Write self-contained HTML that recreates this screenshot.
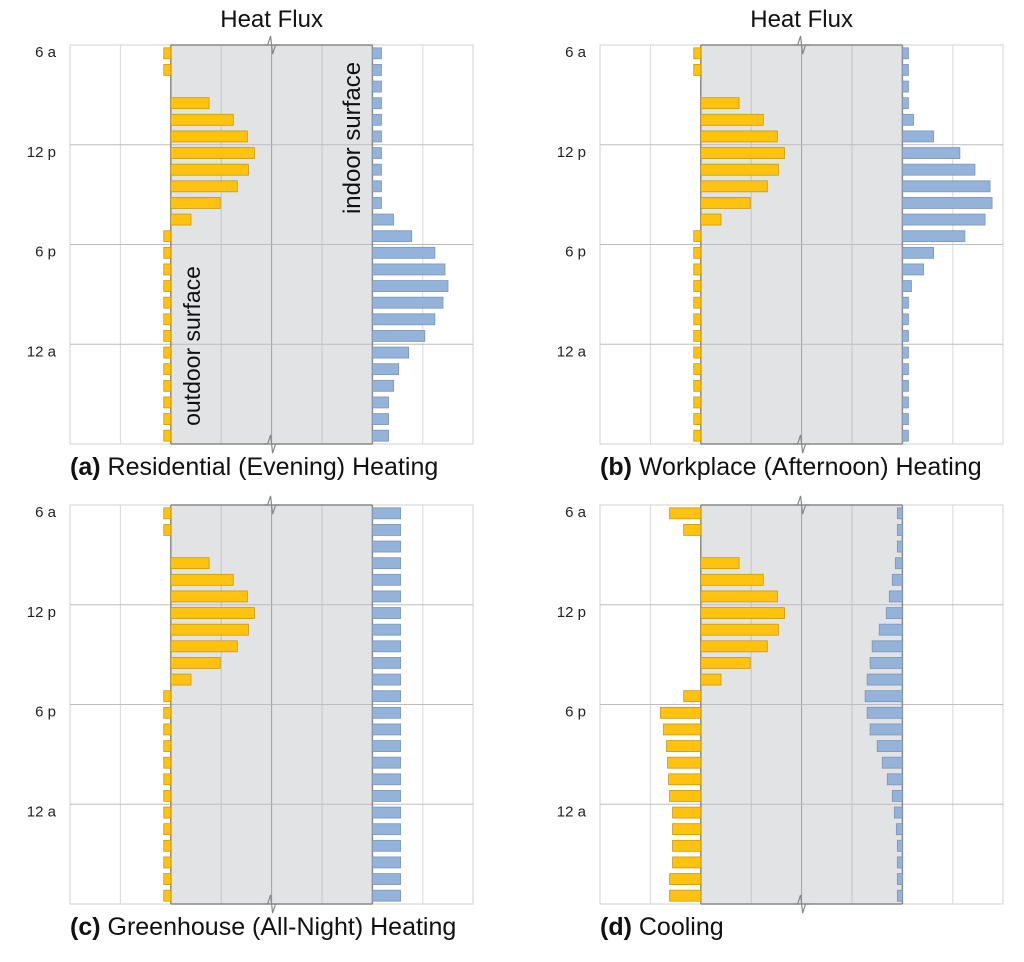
<!DOCTYPE html>
<html><head><meta charset="utf-8"><style>
html,body{margin:0;padding:0;background:#fff}
svg{display:block;font-family:"Liberation Sans",Arial,sans-serif}
</style></head><body>
<svg id="chart" width="1024" height="962" viewBox="0 0 1024 962" xmlns="http://www.w3.org/2000/svg"></svg>
<script>
const timeLabels = ["6 a","12 p","6 p","12 a"];
const outdoorA = [-0.14,-0.14,0,0.76,1.24,1.52,1.66,1.54,1.32,0.98,0.4,-0.14,-0.14,-0.14,-0.14,-0.14,-0.14,-0.14,-0.14,-0.14,-0.14,-0.14,-0.14,-0.14];
const indoorA = [0.18,0.18,0.18,0.18,0.18,0.18,0.18,0.18,0.18,0.18,0.42,0.78,1.24,1.44,1.5,1.4,1.24,1.04,0.72,0.52,0.42,0.32,0.32,0.32];
const outdoorB = [-0.14,-0.14,0,0.76,1.24,1.52,1.66,1.54,1.32,0.98,0.4,-0.14,-0.14,-0.14,-0.14,-0.14,-0.14,-0.14,-0.14,-0.14,-0.14,-0.14,-0.14,-0.14];
const indoorB = [0.12,0.12,0.12,0.12,0.22,0.62,1.14,1.44,1.74,1.78,1.64,1.24,0.62,0.42,0.18,0.12,0.12,0.12,0.12,0.12,0.12,0.12,0.12,0.12];
const outdoorC = [-0.14,-0.14,0,0.76,1.24,1.52,1.66,1.54,1.32,0.98,0.4,-0.14,-0.14,-0.14,-0.14,-0.14,-0.14,-0.14,-0.14,-0.14,-0.14,-0.14,-0.14,-0.14];
const indoorC = [0.56,0.56,0.56,0.56,0.56,0.56,0.56,0.56,0.56,0.56,0.56,0.56,0.56,0.56,0.56,0.56,0.56,0.56,0.56,0.56,0.56,0.56,0.56,0.56];
const outdoorD = [-0.62,-0.34,0,0.76,1.24,1.52,1.66,1.54,1.32,0.98,0.4,-0.34,-0.8,-0.74,-0.68,-0.66,-0.64,-0.62,-0.56,-0.56,-0.56,-0.56,-0.62,-0.62];
const indoorD = [-0.1,-0.1,-0.1,-0.14,-0.2,-0.26,-0.32,-0.46,-0.6,-0.64,-0.7,-0.74,-0.7,-0.64,-0.5,-0.4,-0.3,-0.2,-0.16,-0.12,-0.1,-0.1,-0.1,-0.1];
const captionLetters = ["(a)","(b)","(c)","(d)"];
const captionTexts = ["Residential (Evening) Heating","Workplace (Afternoon) Heating","Greenhouse (All-Night) Heating","Cooling"];

const NS="http://www.w3.org/2000/svg";
const svg=document.getElementById('chart');
function mk(tag,attrs,parent){const e=document.createElementNS(NS,tag);for(const k in attrs)e.setAttribute(k,attrs[k]);(parent||svg).appendChild(e);return e;}

const panels=[
 {x:70,y:45,out:outdoorA,ind:indoorA,title:true,name:'panel-a'},
 {x:600,y:45,out:outdoorB,ind:indoorB,title:true,name:'panel-b'},
 {x:70,y:505,out:outdoorC,ind:indoorC,title:false,name:'panel-c'},
 {x:600,y:505,out:outdoorD,ind:indoorD,title:false,name:'panel-d'}];
const U=50.4, W=403, H=399, rows=24, rowH=H/rows, barH=11;

panels.forEach((p,pi)=>{
  const g=mk('g',{});
  
  
  const gx0=p.x+2*U, gx1=p.x+6*U;
  const xOut=v=>gx0+v*U, xIn=v=>gx1+v*U;
  const yRow=i=>p.y+i*rowH;
  const fr=mk('rect',{x:p.x,y:p.y,width:W,height:H,fill:'#fff',stroke:'#d0d0d0','stroke-width':1},g);
  
  
  const gray=mk('rect',{x:gx0,y:p.y,width:gx1-gx0,height:H,fill:'#e2e3e5'},g);
  
  
  for(let k=1;k<8;k++){
    const x=p.x+k*U;
    if(k===2||k===6)continue;
    const l=mk('line',{x1:x,x2:x,y1:p.y,y2:p.y+H,stroke:(k>2&&k<6)?(k===4?'#a0a0a0':'#c4c4c6'):'#d8d8d8','stroke-width':1},g);
    
    
  }
  for(let k=1;k<4;k++){
    const y=p.y+k*H/4;
    const l=mk('line',{x1:p.x,x2:p.x+W,y1:y,y2:y,stroke:'#bdbdbd','stroke-width':1},g);
    
    
  }
  mk('line',{x1:gx0,x2:gx0,y1:p.y,y2:p.y+H,stroke:'#8a8a8a','stroke-width':1.5},g);
  mk('line',{x1:gx1,x2:gx1,y1:p.y,y2:p.y+H,stroke:'#8a8a8a','stroke-width':1.5},g);
  mk('line',{x1:gx0,x2:gx1,y1:p.y,y2:p.y,stroke:'#8a8a8a','stroke-width':1.5},g);
  mk('line',{x1:gx0,x2:gx1,y1:p.y+H,y2:p.y+H,stroke:'#8a8a8a','stroke-width':1.5},g);
  const cx=p.x+4*U;
  const bt=mk('polyline',{points:`${cx-8},${p.y} ${cx-4},${p.y} ${cx-1},${p.y-9} ${cx+1},${p.y+9} ${cx+4},${p.y} ${cx+8},${p.y}`,fill:'none',stroke:'#888','stroke-width':1.2},g);
  
  
  const bb=mk('polyline',{points:`${cx-8},${p.y+H} ${cx-4},${p.y+H} ${cx-1},${p.y+H-9} ${cx+1},${p.y+H+9} ${cx+4},${p.y+H} ${cx+8},${p.y+H}`,fill:'none',stroke:'#888','stroke-width':1.2},g);
  
  
  p.out.forEach((v,i)=>{
    if(v===0)return;
    const a=xOut(0),b=xOut(v);
    const r=mk('rect',{x:Math.min(a,b),y:yRow(i)+(rowH-barH)/2,width:Math.abs(b-a),height:barH,fill:'#ffc20e',stroke:'#c99a10','stroke-width':0.8},g);
    
    
  });
  p.ind.forEach((v,i)=>{
    if(v===0)return;
    const a=xIn(0),b=xIn(v);
    const r=mk('rect',{x:Math.min(a,b),y:yRow(i)+(rowH-barH)/2,width:Math.abs(b-a),height:barH,fill:'#93b3da',stroke:'#7f95b3','stroke-width':0.8},g);
    
    
  });
  timeLabels.forEach((t,k)=>{
    const tx=mk('text',{x:p.x-14,y:p.y+k*H/4+12,'text-anchor':'end','font-size':15,fill:'#222'},g);
    tx.textContent=t;
    
    
  });
  if(p.title){
    const t=mk('text',{x:cx,y:27,'text-anchor':'middle','font-size':24,fill:'#111'},g);
    t.textContent='Heat Flux';
    
    
  }
  const cap=mk('text',{x:p.x,y:p.y+H+31,'font-size':25,fill:'#111'},g);
  
  
  const b1=mk('tspan',{'font-weight':'bold'},cap); b1.textContent=captionLetters[pi];
  const b2=mk('tspan',{},cap); b2.textContent=' '+captionTexts[pi];
  if(pi===0){
    const o=mk('text',{x:0,y:0,'font-size':23,fill:'#111','text-anchor':'middle',transform:`translate(200,346) rotate(-90)`},g);
    o.textContent='outdoor surface';
    
    
    const n=mk('text',{x:0,y:0,'font-size':24,fill:'#111','text-anchor':'middle',transform:`translate(360,138) rotate(-90)`},g);
    n.textContent='indoor surface';
    
    
  }
});
</script>
</body></html>
